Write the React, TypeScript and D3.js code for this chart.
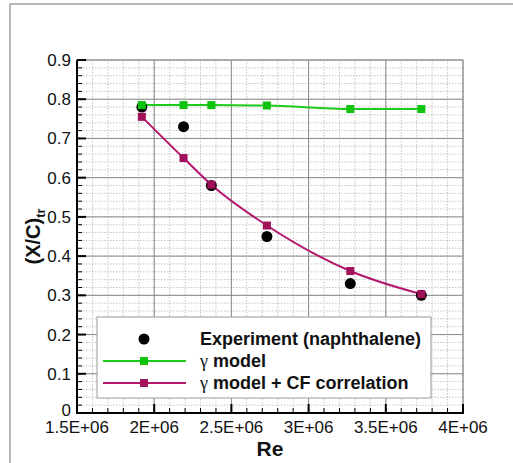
import React from "react";
import * as d3 from "d3";

const reynolds = [1.92e6, 2.19e6, 2.37e6, 2.73e6, 3.27e6, 3.73e6];
const experiment = [0.78, 0.73, 0.58, 0.45, 0.33, 0.3];
const gammaModel = [0.785, 0.785, 0.785, 0.784, 0.775, 0.775];
const gammaCF = [0.755, 0.65, 0.582, 0.478, 0.362, 0.303];
const xTicks = [1.5e6, 2e6, 2.5e6, 3e6, 3.5e6, 4e6];
const xTickLabels = ["1.5E+06", "2E+06", "2.5E+06", "3E+06", "3.5E+06", "4E+06"];
const yTicks = [0, 0.1, 0.2, 0.3, 0.4, 0.5, 0.6, 0.7, 0.8, 0.9];
const legendLabels = ["Experiment (naphthalene)", "model", "model + CF correlation"];

const GREEN = "#1ccc1c";
const GREEN_M = "#0cc40c";
const MAG = "#b3166a";
const MAG_M = "#a3105a";
const FONT = "'Liberation Sans', Arial, sans-serif";

export default function App() {
  const L = 77, R = 463, T = 60, B = 413;
  const x = d3.scaleLinear().domain([1.5e6, 4e6]).range([L, R]);
  const y = d3.scaleLinear().domain([0, 0.9]).range([B, T]);

  const xMinor = d3.range(1.5e6, 4e6 + 1, 1e5);
  const yMinor = d3.range(0, 0.9001, 0.02);

  const greenPath = d3
    .line<number>()
    .x((_, i) => x(reynolds[i]))
    .y((d) => y(d))
    .curve(d3.curveMonotoneX)(gammaModel) || "";
  const magPath = d3
    .line<number>()
    .x((_, i) => x(reynolds[i]))
    .y((d) => y(d))
    .curve(d3.curveMonotoneX)(gammaCF) || "";

  const ms = 8;

  return (
    <svg
      width={513}
      height={463}
      style={{ position: "absolute", left: 0, top: 0, background: "#fff" }}
      fontFamily={FONT}
    >
      <rect x={10} y={4} width={520} height={480} fill="#fff" stroke="#a0a0a0" strokeWidth={1.5} />

      {/* minor grid */}
      {xMinor.map((v, i) => (
        <line key={"xm" + i} x1={x(v)} x2={x(v)} y1={T} y2={B} stroke="#c4c4c4" strokeWidth={1} strokeDasharray="1.5,1.5" />
      ))}
      {yMinor.map((v, i) => (
        <line key={"ym" + i} x1={L} x2={R} y1={y(v)} y2={y(v)} stroke="#c4c4c4" strokeWidth={1} strokeDasharray="1.5,1.5" />
      ))}
      {/* major grid */}
      {xTicks.map((v, i) => (
        <line key={"xg" + i} x1={x(v)} x2={x(v)} y1={T} y2={B} stroke="#8a8a8a" strokeWidth={1} />
      ))}
      {yTicks.map((v, i) => (
        <line key={"yg" + i} x1={L} x2={R} y1={y(v)} y2={y(v)} stroke="#8a8a8a" strokeWidth={1} />
      ))}
      <rect x={L} y={T} width={R - L} height={B - T} fill="none" stroke="#9a9a9a" strokeWidth={1} />

      {/* axes */}
      <line x1={L} x2={L} y1={T} y2={B + 1} stroke="#000" strokeWidth={2} />
      <line x1={L - 1} x2={R + 1} y1={B} y2={B} stroke="#000" strokeWidth={2} />
      {yTicks.map((v, i) => (
        <line key={"yt" + i} x1={L} x2={L + 9} y1={y(v)} y2={y(v)} stroke="#000" strokeWidth={2} />
      ))}
      {yMinor.map((v, i) => (
        <line key={"ytm" + i} x1={L} x2={L + 5} y1={y(v)} y2={y(v)} stroke="#000" strokeWidth={1} />
      ))}
      {xTicks.map((v, i) => (
        <line key={"xt" + i} x1={x(v)} x2={x(v)} y1={B} y2={B - 9} stroke="#000" strokeWidth={2} />
      ))}
      {xMinor.map((v, i) => (
        <line key={"xtm" + i} x1={x(v)} x2={x(v)} y1={B} y2={B - 5} stroke="#000" strokeWidth={1} />
      ))}

      {/* tick labels */}
      {yTicks.map((v, i) => (
        <text key={"yl" + i} x={L - 6} y={y(v) + (i === 0 ? 3 : 6)} fontSize={17} textAnchor="end" fill="#111">
          {i === 0 ? "0" : d3.format(".1f")(v)}
        </text>
      ))}
      {xTicks.map((v, i) => (
        <text key={"xl" + i} x={x(v)} y={B + 20} fontSize={17} textAnchor="middle" fill="#111">
          {xTickLabels[i]}
        </text>
      ))}

      {/* axis titles */}
      <text x={270} y={456} fontSize={21} fontWeight="bold" textAnchor="middle" fill="#111">
        Re
      </text>
      <text transform={`translate(40,${(T + B) / 2}) rotate(-90)`} fontSize={20} fontWeight="bold" textAnchor="middle" fill="#111">
        (X/C)
        <tspan fontSize={13} dy={5}>tr</tspan>
      </text>

      {/* series */}
      <path d={greenPath} fill="none" stroke={GREEN} strokeWidth={2} />
      <path d={magPath} fill="none" stroke={MAG} strokeWidth={2} />
      {experiment.map((v, i) => (
        <circle key={"e" + i} cx={x(reynolds[i])} cy={y(v)} r={5.5} fill="#000" />
      ))}
      {gammaCF.map((v, i) => (
        <rect key={"m" + i} x={x(reynolds[i]) - ms / 2} y={y(v) - ms / 2} width={ms} height={ms} fill={MAG_M} />
      ))}
      {gammaModel.map((v, i) => (
        <rect key={"g" + i} x={x(reynolds[i]) - ms / 2} y={y(v) - ms / 2} width={ms} height={ms} fill={GREEN_M} />
      ))}

      {/* legend */}
      <g>
        <rect x={97} y={317} width={334} height={81} fill="#fff" stroke="#999" strokeWidth={1} />
        <circle cx={144} cy={339} r={5.5} fill="#000" />
        <text x={200} y={345} fontSize={18} fontWeight="bold" fill="#111">{legendLabels[0]}</text>
        <line x1={103} x2={186} y1={361} y2={361} stroke={GREEN} strokeWidth={2} />
        <rect x={144 - ms / 2} y={361 - ms / 2} width={ms} height={ms} fill={GREEN_M} />
        <text x={200} y={367} fontSize={18} fill="#111">
          <tspan fontFamily="'Liberation Serif', serif" fontSize={18}>γ</tspan>
          <tspan fontWeight="bold"> {legendLabels[1]}</tspan>
        </text>
        <line x1={103} x2={186} y1={383} y2={383} stroke={MAG} strokeWidth={2} />
        <rect x={144 - ms / 2} y={383 - ms / 2} width={ms} height={ms} fill={MAG_M} />
        <text x={200} y={389} fontSize={18} fill="#111">
          <tspan fontFamily="'Liberation Serif', serif" fontSize={18}>γ</tspan>
          <tspan fontWeight="bold"> {legendLabels[2]}</tspan>
        </text>
      </g>
    </svg>
  );
}
